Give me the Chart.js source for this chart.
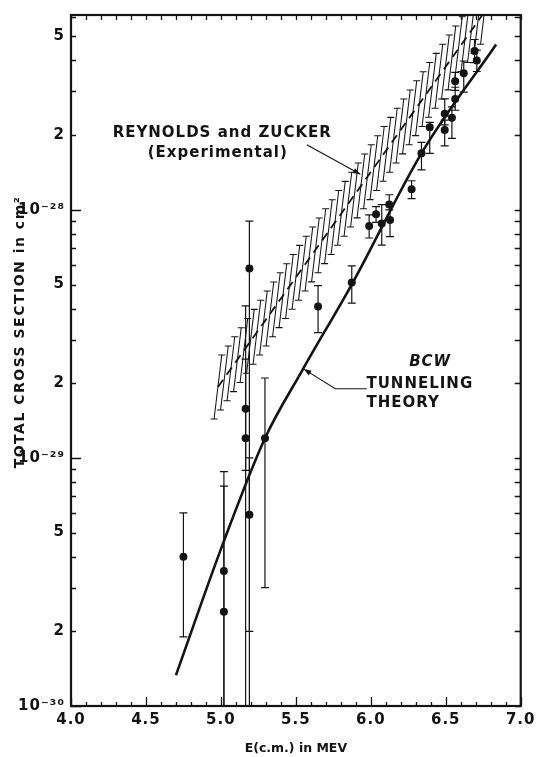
<!DOCTYPE html>
<html>
<head>
<meta charset="utf-8">
<script src="https://cdn.jsdelivr.net/npm/chart.js@4.4.0/dist/chart.umd.min.js"></script>
<style>
  html, body { margin: 0; padding: 0; background: #fff; }
  #wrap { width: 539px; height: 757px; }
</style>
</head>
<body>
<div id="wrap"><canvas id="chart" width="539" height="757"></canvas></div>
<script>
// Measured points (E in MeV, sigma in cm2) with error bar ends
const energy  = [4.75, 5.02, 5.02, 5.165, 5.165, 5.19, 5.19, 5.294, 5.648, 5.873, 5.989, 6.035, 6.073, 6.123, 6.128, 6.272, 6.338, 6.393, 6.493, 6.493, 6.541, 6.563, 6.563, 6.62, 6.692, 6.707];
const sigma   = [4.0e-30, 3.5e-30, 2.4e-30, 1.58e-29, 1.2e-29, 5.8e-29, 5.9e-30, 1.2e-29, 4.08e-29, 5.09e-29, 8.6e-29, 9.6e-29, 8.8e-29, 1.05e-28, 9.1e-29, 1.21e-28, 1.69e-28, 2.15e-28, 2.1e-28, 2.44e-28, 2.35e-28, 2.8e-28, 3.3e-28, 3.55e-28, 4.37e-28, 4.0e-28];
const sigmaHi = [6.0e-30, 8.8e-30, 7.7e-30, 4.1e-29, 2.5e-29, 9.0e-29, 1.0e-29, 2.1e-29, 4.95e-29, 5.94e-29, 9.55e-29, 1.03e-28, 1.05e-28, 1.15e-28, 1.03e-28, 1.31e-28, 1.87e-28, 2.25e-28, 2.3e-28, 2.8e-28, 2.6e-28, 3.12e-28, 3.58e-28, 3.98e-28, 4.86e-28, 4.4e-28];
const sigmaLo = [1.9e-30, 5e-31, 5e-31, 5e-31, 8.9e-30, 5e-31, 2.0e-30, 3.0e-30, 3.2e-29, 4.21e-29, 7.7e-29, 8.9e-29, 7.2e-29, 1.0e-28, 7.8e-29, 1.11e-28, 1.45e-28, 1.69e-28, 1.81e-28, 2.2e-28, 1.94e-28, 2.52e-28, 3.03e-28, 2.98e-28, 3.92e-28, 3.61e-28];

// BCW tunneling theory curve
const theoryE     = [4.70, 5.01, 5.294, 5.542, 5.878, 6.338, 6.836];
const theorySigma = [1.33e-30, 4.45e-30, 1.2e-29, 2.25e-29, 5.07e-29, 1.69e-28, 4.64e-28];

// Reynolds and Zucker experimental band (centre and upper edge)
const bandE     = [4.98, 6.80];
const bandMid   = [1.93e-29, 6.8e-28];
const bandUpper = [2.47e-29, 8.7e-28];

// Axis tick labels
const xTickValues = [4.0, 4.5, 5.0, 5.5, 6.0, 6.5, 7.0];
const xTickLabels = ['4.0', '4.5', '5.0', '5.5', '6.0', '6.5', '7.0'];
const yTickValues = [1e-30, 2e-30, 5e-30, 1e-29, 2e-29, 5e-29, 1e-28, 2e-28, 5e-28];
const yTickLabels = ['10⁻³⁰', '2', '5', '10⁻²⁹', '2', '5', '10⁻²⁸', '2', '5'];

const FONT = '"DejaVu Sans", sans-serif';
const INK = '#141414';

function xMinorTicks() {
    const out = [];
    for (let k = 40; k <= 70; k++) out.push(k / 10);
    return out;
}
function yMinorTicks(max) {
    const out = [];
    for (let d = -30; d <= -28; d++) {
        for (let m = 1; m <= 9; m++) {
            const v = m * Math.pow(10, d);
            if (v <= max * 1.0001) out.push(v);
        }
    }
    return out;
}

// inward tick marks + frame
const frame = {
    id: 'frame',
    beforeDraw(chart) {
        chart.ctx.letterSpacing = '1px';
    },
    afterDraw(chart) {
        const { ctx, chartArea: a, scales: { x, y } } = chart;
        ctx.save();
        ctx.strokeStyle = INK;
        ctx.lineWidth = 1.3;
        ctx.beginPath();
        xMinorTicks().forEach(v => {
            const px = Math.round(x.getPixelForValue(v)) + 0.5;
            const major = Math.abs(v * 2 - Math.round(v * 2)) < 1e-6;
            ctx.moveTo(px, a.bottom);
            ctx.lineTo(px, a.bottom - (major ? 9 : 4));
            ctx.moveTo(px, a.top);
            ctx.lineTo(px, a.top + 5);
        });
        yMinorTicks(y.max).forEach(v => {
            const py = Math.round(y.getPixelForValue(v)) + 0.5;
            const m = Math.round(v / Math.pow(10, Math.floor(Math.log10(v) + 1e-9)));
            ctx.moveTo(a.left, py);
            ctx.lineTo(a.left + (m === 1 ? 10 : 5), py);
            ctx.moveTo(a.right, py);
            ctx.lineTo(a.right - 6, py);
        });
        ctx.stroke();
        ctx.lineWidth = 2.2;
        ctx.strokeRect(a.left, a.top, a.right - a.left, a.bottom - a.top);
        ctx.restore();
    }
};

const errorBars = {
    id: 'errorBars',
    afterDatasetsDraw(chart) {
        const { ctx, chartArea: a, scales: { x, y } } = chart;
        ctx.save();
        ctx.beginPath();
        ctx.rect(a.left, a.top, a.right - a.left, a.bottom - a.top);
        ctx.clip();
        ctx.strokeStyle = INK;
        ctx.lineWidth = 1.2;
        energy.forEach((e, i) => {
            const px = x.getPixelForValue(e);
            const top = y.getPixelForValue(sigmaHi[i]);
            const bot = y.getPixelForValue(sigmaLo[i]);
            ctx.beginPath();
            ctx.moveTo(px, top); ctx.lineTo(px, bot);
            ctx.moveTo(px - 4, top); ctx.lineTo(px + 4, top);
            ctx.moveTo(px - 4, bot); ctx.lineTo(px + 4, bot);
            ctx.stroke();
        });
        ctx.restore();
    }
};

// hatched band: slanted "I" strokes from edge to edge
const bandHatch = {
    id: 'bandHatch',
    beforeDatasetsDraw(chart) {
        const { ctx, chartArea: a, scales: { x, y } } = chart;
        const x0 = x.getPixelForValue(bandE[0]), y0 = y.getPixelForValue(bandMid[0]);
        const x1 = x.getPixelForValue(bandE[1]), y1 = y.getPixelForValue(bandMid[1]);
        const vHalf = y0 - y.getPixelForValue(bandUpper[0]);
        const k = (y0 - y1) / (x1 - x0);          // rise of band, px per px
        const lean = 0.12;                          // stroke top leans right
        const t = vHalf / (1 - k * lean);
        const step = 6.5, cap = 3.5;
        ctx.save();
        ctx.beginPath();
        ctx.rect(a.left, a.top, a.right - a.left, a.bottom - a.top);
        ctx.clip();
        ctx.strokeStyle = INK;
        ctx.lineWidth = 1.05;
        ctx.beginPath();
        for (let px = x0; px <= x1; px += step) {
            const cy = y0 - k * (px - x0);
            const tx = px + lean * t, ty = cy - t;
            const bx = px - lean * t, by = cy + t;
            ctx.moveTo(tx, ty); ctx.lineTo(bx, by);
            ctx.moveTo(tx - cap, ty); ctx.lineTo(tx + cap, ty);
            ctx.moveTo(bx - cap, by); ctx.lineTo(bx + cap, by);
        }
        ctx.stroke();
        ctx.restore();
    }
};

// labels and arrows on the plot
const notes = [
    { text: 'REYNOLDS and ZUCKER', x: 5.009, y: 2.03e-28, align: 'center', font: 'bold 15px ' + FONT },
    { text: '(Experimental)', x: 4.979, y: 1.69e-28, align: 'center', font: 'bold 15px ' + FONT },
    { text: 'BCW', x: 6.396, y: 2.43e-29, align: 'center', font: 'italic bold 15px ' + FONT },
    { text: 'TUNNELING', x: 5.971, y: 1.99e-29, align: 'left', font: 'bold 15px ' + FONT },
    { text: 'THEORY', x: 5.971, y: 1.66e-29, align: 'left', font: 'bold 15px ' + FONT }
];
const arrows = [
    [[5.573, 1.83e-28], [5.93, 1.39e-28]],
    [[5.973, 1.9e-29], [5.763, 1.9e-29], [5.553, 2.28e-29]]
];

const annotate = {
    id: 'annotate',
    afterDraw(chart) {
        const { ctx, chartArea: a, scales: { x, y } } = chart;
        ctx.save();
        ctx.fillStyle = INK;
        ctx.strokeStyle = INK;
        ctx.letterSpacing = '1px';
        ctx.textBaseline = 'middle';
        notes.forEach(n => {
            ctx.font = n.font;
            ctx.textAlign = n.align;
            ctx.fillText(n.text, x.getPixelForValue(n.x), y.getPixelForValue(n.y));
        });
        ctx.lineWidth = 1.1;
        arrows.forEach(pts => {
            const p = pts.map(q => [x.getPixelForValue(q[0]), y.getPixelForValue(q[1])]);
            ctx.beginPath();
            ctx.moveTo(p[0][0], p[0][1]);
            for (let i = 1; i < p.length; i++) ctx.lineTo(p[i][0], p[i][1]);
            ctx.stroke();
            const [tx, ty] = p[p.length - 1], [sx, sy] = p[p.length - 2];
            const ang = Math.atan2(ty - sy, tx - sx);
            ctx.beginPath();
            ctx.moveTo(tx, ty);
            ctx.lineTo(tx - 8 * Math.cos(ang - 0.35), ty - 8 * Math.sin(ang - 0.35));
            ctx.lineTo(tx - 8 * Math.cos(ang + 0.35), ty - 8 * Math.sin(ang + 0.35));
            ctx.closePath();
            ctx.fill();
        });
        // x axis title
        ctx.letterSpacing = '0px';
        ctx.font = 'bold 12.5px ' + FONT;
        ctx.textAlign = 'center';
        ctx.fillText('E(c.m.) in MEV', (a.left + a.right) / 2, 749);
        // y axis title
        ctx.font = 'bold 14px ' + FONT;
        ctx.letterSpacing = '1.5px';
        ctx.translate(20, 332);
        ctx.rotate(-Math.PI / 2);
        ctx.fillText('TOTAL CROSS SECTION in cm²', 0, 0);
        ctx.restore();
    }
};

const ctx = document.getElementById('chart').getContext('2d');
new Chart(ctx, {
    type: 'scatter',
    data: {
        datasets: [
            {
                label: 'BCW tunneling theory',
                type: 'line',
                data: theoryE.map((e, i) => ({ x: e, y: theorySigma[i] })),
                borderColor: INK,
                borderWidth: 2.6,
                pointRadius: 0,
                cubicInterpolationMode: 'monotone',
                fill: false
            },
            {
                label: 'Reynolds and Zucker',
                type: 'line',
                data: bandE.map((e, i) => ({ x: e, y: bandMid[i] })),
                borderColor: INK,
                borderWidth: 1.8,
                borderDash: [9, 6],
                pointRadius: 0,
                fill: false
            },
            {
                label: 'Measured',
                data: energy.map((e, i) => ({ x: e, y: sigma[i] })),
                pointRadius: 4,
                backgroundColor: INK,
                borderWidth: 0
            }
        ]
    },
    options: {
        responsive: false,
        animation: false,
        devicePixelRatio: 1,
        layout: { padding: { top: 7, right: 16, left: 0, bottom: 0 } },
        plugins: { legend: { display: false }, tooltip: { enabled: false } },
        scales: {
            x: {
                type: 'linear',
                min: 4.0,
                max: 7.0,
                afterBuildTicks: s => { s.ticks = xMinorTicks().map(v => ({ value: v })); },
                afterFit: s => { s.height = 51; },
                ticks: {
                    autoSkip: false,
                    maxRotation: 0,
                    padding: 5,
                    color: INK,
                    font: { family: FONT, size: 15, weight: 'bold' },
                    callback: v => {
                        const i = xTickValues.findIndex(t => Math.abs(t - v) < 1e-6);
                        return i >= 0 ? xTickLabels[i] : '';
                    }
                },
                grid: { display: false, drawTicks: false },
                border: { display: false }
            },
            y: {
                type: 'logarithmic',
                min: 1e-30,
                max: 6.1e-28,
                afterBuildTicks: s => { s.ticks = yMinorTicks(6.1e-28).map(v => ({ value: v })); },
                afterFit: s => { s.width = 71; },
                ticks: {
                    autoSkip: false,
                    padding: 6,
                    color: INK,
                    font: { family: FONT, size: 15, weight: 'bold' },
                    callback: v => {
                        const i = yTickValues.findIndex(t => Math.abs(t / v - 1) < 1e-6);
                        return i >= 0 ? yTickLabels[i] : '';
                    }
                },
                grid: { display: false, drawTicks: false },
                border: { display: false }
            }
        }
    },
    plugins: [frame, bandHatch, errorBars, annotate]
});
</script>
</body>
</html>
